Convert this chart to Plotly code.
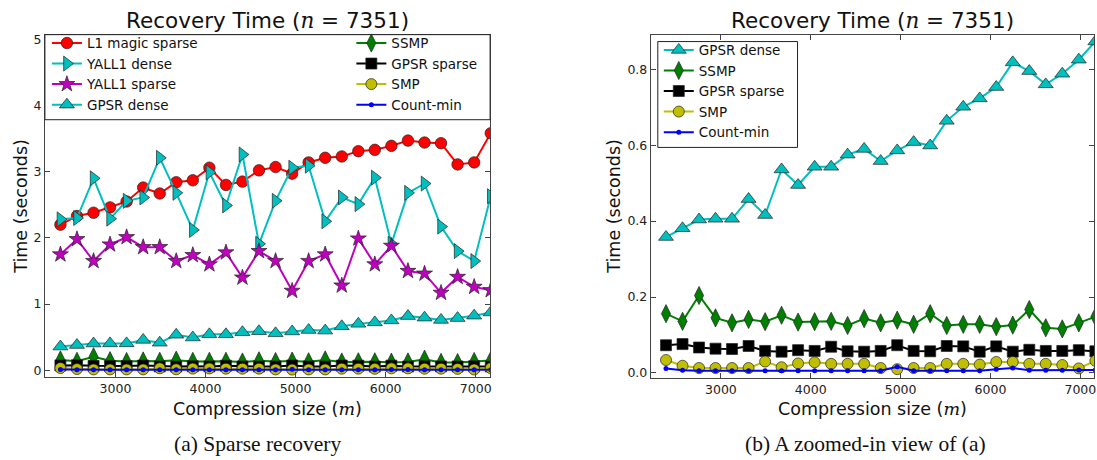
import plotly.graph_objects as go

# Compression sizes m (n = 7351)
m_sizes = [2389, 2573, 2757, 2940, 3124, 3308, 3492, 3675, 3859, 4043, 4227, 4410,
           4594, 4778, 4962, 5145, 5329, 5513, 5697, 5880, 6064, 6248, 6432, 6615,
           6799, 6983, 7167]

# Recovery times in seconds
l1magic_sparse = [2.20, 2.33, 2.38, 2.46, 2.55, 2.76, 2.67, 2.84, 2.87, 3.06, 2.80, 2.85,
                  3.02, 3.07, 2.97, 3.14, 3.21, 3.23, 3.31, 3.33, 3.39, 3.47, 3.44, 3.43,
                  3.11, 3.14, 3.58]
yall1_dense = [2.28, 2.30, 2.90, 2.29, 2.56, 2.61, 3.21, 2.68, 2.12, 2.99, 2.49, 3.26,
               1.91, 2.56, 3.06, 3.09, 2.25, 2.61, 2.51, 2.91, 1.91, 2.68, 2.82, 2.17,
               1.80, 1.65, 2.63]
yall1_sparse = [1.75, 1.98, 1.65, 1.90, 2.01, 1.86, 1.86, 1.65, 1.74, 1.60, 1.78, 1.40,
                1.80, 1.65, 1.20, 1.65, 1.75, 1.28, 1.99, 1.60, 1.88, 1.50, 1.46, 1.17,
                1.41, 1.26, 1.21]
gpsr_dense = [0.358, 0.381, 0.404, 0.406, 0.406, 0.458, 0.416, 0.536, 0.495, 0.543, 0.543,
              0.575, 0.590, 0.558, 0.586, 0.608, 0.599, 0.664, 0.701, 0.723, 0.753, 0.818,
              0.795, 0.760, 0.788, 0.825, 0.873]
ssmp = [0.156, 0.136, 0.204, 0.145, 0.132, 0.141, 0.135, 0.152, 0.134, 0.135, 0.136, 0.125,
        0.143, 0.132, 0.139, 0.128, 0.156, 0.125, 0.128, 0.128, 0.122, 0.126, 0.167, 0.119,
        0.116, 0.132, 0.148]
gpsr_sparse = [0.073, 0.076, 0.067, 0.064, 0.063, 0.071, 0.058, 0.056, 0.060, 0.058, 0.069,
               0.057, 0.056, 0.058, 0.073, 0.058, 0.057, 0.071, 0.070, 0.056, 0.070, 0.056,
               0.061, 0.058, 0.058, 0.060, 0.057]
smp = [0.034, 0.019, 0.013, 0.013, 0.013, 0.013, 0.030, 0.015, 0.025, 0.028, 0.024, 0.024,
       0.024, 0.013, 0.010, 0.013, 0.013, 0.024, 0.024, 0.022, 0.029, 0.029, 0.024, 0.024,
       0.021, 0.012, 0.032]
count_min = [0.012, 0.007, 0.006, 0.006, 0.006, 0.006, 0.006, 0.006, 0.006, 0.006, 0.006,
             0.006, 0.006, 0.006, 0.016, 0.006, 0.006, 0.006, 0.006, 0.006, 0.010, 0.013,
             0.007, 0.007, 0.007, 0.008, 0.008]

left_yticks = [0, 1, 2, 3, 4, 5]
right_yticks = [0.0, 0.2, 0.4, 0.6, 0.8]
xticks = [3000, 4000, 5000, 6000, 7000]

# name, values, colour, symbol, marker size, legend column (left plot)
series = [
    ("L1 magic sparse", l1magic_sparse, "#ff0000", "circle", 11.5, "legend"),
    ("YALL1 dense", yall1_dense, "#00bfbf", "triangle-right", 13, "legend"),
    ("YALL1 sparse", yall1_sparse, "#bf00bf", "star", 12, "legend"),
    ("GPSR dense", gpsr_dense, "#00bfbf", "triangle-up", 13, "legend"),
    ("SSMP", ssmp, "#008000", "diamond-tall", 13, "legend2"),
    ("GPSR sparse", gpsr_sparse, "#000000", "square", 11, "legend2"),
    ("SMP", smp, "#bfbf00", "circle", 11, "legend2"),
    ("Count-min", count_min, "#0000ff", "circle", 5, "legend2"),
]
zoomed = {"GPSR dense", "SSMP", "GPSR sparse", "SMP", "Count-min"}

W, H = 1097, 460
FONT = "DejaVu Sans"
SERIF = "Liberation Serif, Times New Roman, serif"

fig = go.Figure()


def add(name, ys, color, symbol, size, legend, xaxis, yaxis):
    edge = 0 if name == "Count-min" else 0.7
    fig.add_trace(go.Scatter(
        x=m_sizes, y=ys, name=name, mode="lines+markers",
        line=dict(color=color, width=2),
        marker=dict(symbol=symbol, size=size, color=color,
                    line=dict(color="#222222", width=edge)),
        xaxis=xaxis, yaxis=yaxis, legend=legend, cliponaxis=True,
    ))


for name, ys, color, symbol, size, leg in series:
    add(name, ys, color, symbol, size, leg, "x", "y")
for name, ys, color, symbol, size, leg in series:
    if name in zoomed:
        add(name, ys, color, symbol, size, "legend3", "x2", "y2")


def px_x(p):
    return p / W


def px_y(p):
    return (H - p) / H


axis_common = dict(
    showline=True, linecolor="#444444", linewidth=1, mirror="ticks",
    ticks="inside", ticklen=5, tickcolor="#444444", showgrid=False, zeroline=False,
    tickfont=dict(family=FONT, size=12.5, color="#222222"),
)

fig.update_layout(
    width=W, height=H, margin=dict(l=0, r=0, t=0, b=0),
    paper_bgcolor="white", plot_bgcolor="white",
    font=dict(family=FONT, color="#111111"),
    xaxis=dict(domain=[px_x(45), px_x(491)], range=[2217, 7160], tickvals=xticks,
               anchor="y", **axis_common),
    yaxis=dict(domain=[px_y(378), px_y(32)], range=[-0.1, 5.07], tickvals=left_yticks,
               anchor="x", **axis_common),
    xaxis2=dict(domain=[px_x(652), px_x(1096)], range=[2220, 7152], tickvals=xticks,
                anchor="y2", **axis_common),
    yaxis2=dict(domain=[px_y(379), px_y(32)], range=[-0.013, 0.891], tickvals=right_yticks,
                tickformat=".1f", anchor="x2", **axis_common),
    showlegend=True,
)

legend_font = dict(family=FONT, size=13.5, color="#111111")
legend_style = dict(font=legend_font, bgcolor="rgba(0,0,0,0)", borderwidth=0,
                    tracegroupgap=0, xanchor="left", yanchor="top", itemwidth=30)
fig.update_layout(
    legend=dict(x=px_x(47), y=px_y(25), **legend_style),
    legend2=dict(x=px_x(352), y=px_y(25), **legend_style),
    legend3=dict(x=px_x(660), y=px_y(32), **legend_style),
)

# Legend frames: one spanning the top of the left panel, one in the right panel
fig.add_shape(type="rect", xref="paper", yref="paper",
              x0=px_x(45), x1=px_x(491), y0=px_y(118), y1=px_y(32),
              line=dict(color="#222222", width=1), fillcolor="white", layer="above")
fig.add_shape(type="rect", xref="paper", yref="paper",
              x0=px_x(659), x1=px_x(799), y0=px_y(146), y1=px_y(39),
              line=dict(color="#222222", width=1), fillcolor="white", layer="above")

title = "Recovery Time (<span style='font-family:DejaVu Serif'><i>n</i></span> = 7351)"
xlabel = "Compression size (<span style='font-family:DejaVu Serif'><i>m</i></span>)"

texts = [
    (268, 18, title, 21.5, FONT, 0),
    (874, 18, title, 21.5, FONT, 0),
    (268, 410, xlabel, 17.5, FONT, 0),
    (874, 410, xlabel, 17.5, FONT, 0),
    (21, 205, "Time (seconds)", 17.5, FONT, -90),
    (615, 205, "Time (seconds)", 17.5, FONT, -90),
    (258, 446, "(a) Sparse recovery", 21.5, SERIF, 0),
    (867, 446, "(b) A zoomed-in view of (a)", 21.5, SERIF, 0),
]
for x, y, t, size, fam, ang in texts:
    fig.add_annotation(x=px_x(x), y=px_y(y), xref="paper", yref="paper", text=t,
                       showarrow=False, xanchor="center", yanchor="middle",
                       textangle=ang, font=dict(family=fam, size=size, color="#111111"))

fig.write_html("out.html")
